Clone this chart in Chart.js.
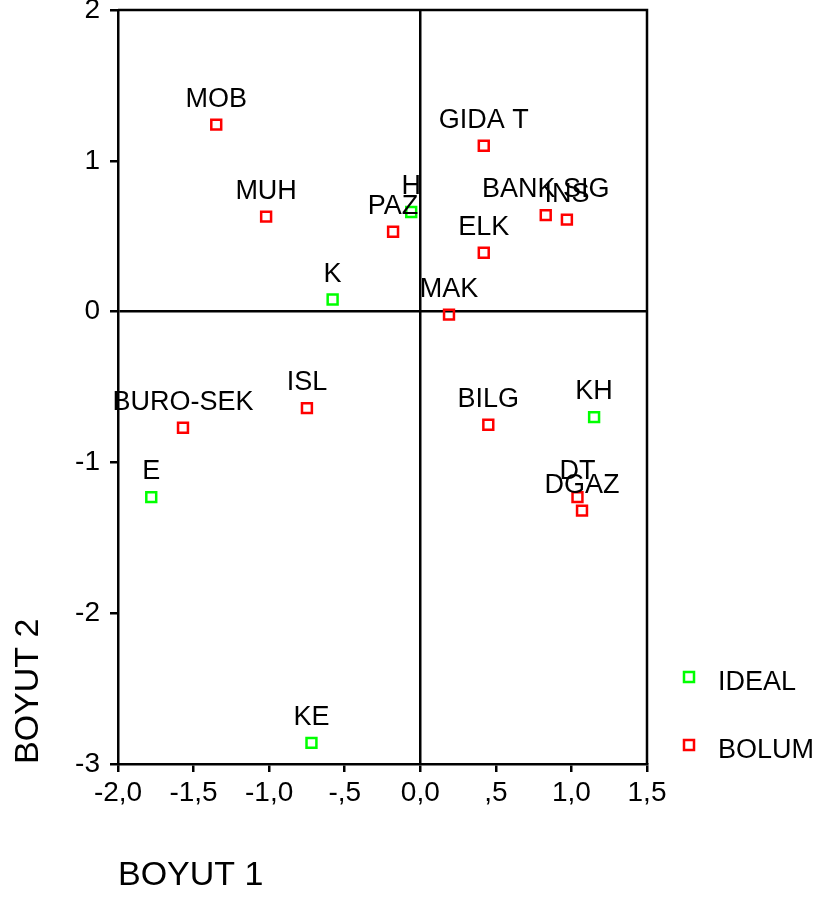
<!DOCTYPE html>
<html>
<head>
<meta charset="utf-8">
<script src="https://cdn.jsdelivr.net/npm/chart.js@4.4.1/dist/chart.umd.min.js"></script>
<style>
  html, body { margin: 0; padding: 0; background: #fff; }
  canvas { display: block; }
</style>
</head>
<body>
<canvas id="chart" width="819" height="900"></canvas>
<script>
// IDEAL noktaları (yeşil)
const idealLabels = ['H', 'K', 'KH', 'E', 'KE'];
const idealX = [-0.06, -0.58, 1.15, -1.78, -0.72];
const idealY = [0.66, 0.08, -0.70, -1.23, -2.86];

// BOLUM noktaları (kırmızı)
const bolumLabels = ['MOB', 'MUH', 'GIDA T', 'PAZ', 'BANK SIG', 'INS', 'ELK', 'MAK',
                     'ISL', 'BURO-SEK', 'BILG', 'DT', 'DGAZ'];
const bolumX = [-1.35, -1.02, 0.42, -0.18, 0.83, 0.97, 0.42, 0.19,
                -0.75, -1.57, 0.45, 1.04, 1.07];
const bolumY = [1.24, 0.63, 1.10, 0.53, 0.64, 0.61, 0.39, -0.02,
                -0.64, -0.77, -0.75, -1.23, -1.32];

// eksen etiketleri
const xTickValues = [-2, -1.5, -1, -0.5, 0, 0.5, 1, 1.5];
const xTickLabels = ['-2,0', '-1,5', '-1,0', '-,5', '0,0', ',5', '1,0', '1,5'];
const yTickValues = [-3, -2, -1, 0, 1, 2];
const yTickLabels = ['-3', '-2', '-1', '0', '1', '2'];

const FONT = 'Arial, "Liberation Sans", sans-serif';
const LINE = 2.5;

const toPoints = (xs, ys) => xs.map((x, i) => ({ x, y: ys[i] }));

// nokta etiketleri, çerçeve ve lejant
const extras = {
  id: 'extras',
  afterDatasetsDraw(chart) {
    const c = chart.ctx;
    const area = chart.chartArea;

    // üst ve sağ çerçeve
    c.save();
    c.strokeStyle = '#000';
    c.lineWidth = LINE;
    c.beginPath();
    c.moveTo(area.left, area.top);
    c.lineTo(area.right, area.top);
    c.lineTo(area.right, area.bottom);
    c.stroke();

    // etiketler
    c.fillStyle = '#000';
    c.font = '27px ' + FONT;
    c.textAlign = 'center';
    c.textBaseline = 'alphabetic';
    chart.data.datasets.forEach((ds, di) => {
      const meta = chart.getDatasetMeta(di);
      meta.data.forEach((el, i) => {
        c.fillText(ds.pointLabels[i], el.x, el.y - 18);
      });
    });

    // lejant
    const lx = area.right + 42;
    const ly = [area.bottom - 87, area.bottom - 19];
    chart.data.datasets.forEach((ds, di) => {
      c.strokeStyle = ds.borderColor;
      c.lineWidth = 2.5;
      c.strokeRect(lx - 5, ly[di] - 5, 10, 10);
      c.fillStyle = '#000';
      c.textAlign = 'left';
      c.textBaseline = 'middle';
      c.fillText(ds.label, lx + 29, ly[di] + 6);
    });
    c.restore();
  }
};

new Chart(document.getElementById('chart'), {
  type: 'scatter',
  data: {
    datasets: [
      {
        label: 'IDEAL',
        data: toPoints(idealX, idealY),
        pointLabels: idealLabels,
        borderColor: '#00ff00',
        backgroundColor: 'rgba(0,0,0,0)',
        pointStyle: 'rect',
        pointRadius: 7,
        borderWidth: 2.5
      },
      {
        label: 'BOLUM',
        data: toPoints(bolumX, bolumY),
        pointLabels: bolumLabels,
        borderColor: '#ff0000',
        backgroundColor: 'rgba(0,0,0,0)',
        pointStyle: 'rect',
        pointRadius: 7,
        borderWidth: 2.5
      }
    ]
  },
  options: {
    responsive: false,
    animation: false,
    layout: { padding: { left: 0, top: 10, right: 172, bottom: 0 } },
    plugins: {
      legend: { display: false },
      tooltip: { enabled: false }
    },
    scales: {
      x: {
        type: 'linear',
        min: -2,
        max: 1.5,
        afterBuildTicks: s => { s.ticks = xTickValues.map(v => ({ value: v })); },
        afterFit: s => { s.height = 136; s.paddingLeft = 0; s.paddingRight = 0; },
        ticks: {
          color: '#000',
          font: { family: FONT, size: 28 },
          padding: 4,
          maxRotation: 0,
          autoSkip: false,
          callback: v => xTickLabels[xTickValues.indexOf(v)]
        },
        grid: {
          color: ctx => (ctx.tick && ctx.tick.value === 0) ? '#000' : 'rgba(0,0,0,0)',
          lineWidth: LINE,
          tickColor: '#000',
          tickWidth: LINE,
          tickLength: 8
        },
        border: { display: true, color: '#000', width: LINE },
        title: {
          display: true,
          text: 'BOYUT 1',
          align: 'start',
          color: '#000',
          font: { family: FONT, size: 34 },
          padding: { top: 0, bottom: 4 }
        }
      },
      y: {
        type: 'linear',
        min: -3,
        max: 2,
        afterBuildTicks: s => { s.ticks = yTickValues.map(v => ({ value: v })); },
        afterFit: s => { s.width = 118; s.paddingTop = 0; s.paddingBottom = 0; },
        ticks: {
          color: '#000',
          font: { family: FONT, size: 28 },
          padding: 10,
          autoSkip: false,
          callback: v => yTickLabels[yTickValues.indexOf(v)]
        },
        grid: {
          color: ctx => (ctx.tick && ctx.tick.value === 0) ? '#000' : 'rgba(0,0,0,0)',
          lineWidth: LINE,
          tickColor: '#000',
          tickWidth: LINE,
          tickLength: 8
        },
        border: { display: true, color: '#000', width: LINE },
        title: {
          display: true,
          text: 'BOYUT 2',
          align: 'start',
          color: '#000',
          font: { family: FONT, size: 34 },
          padding: { top: 8, bottom: 0 }
        }
      }
    }
  },
  plugins: [extras]
});
</script>
</body>
</html>
